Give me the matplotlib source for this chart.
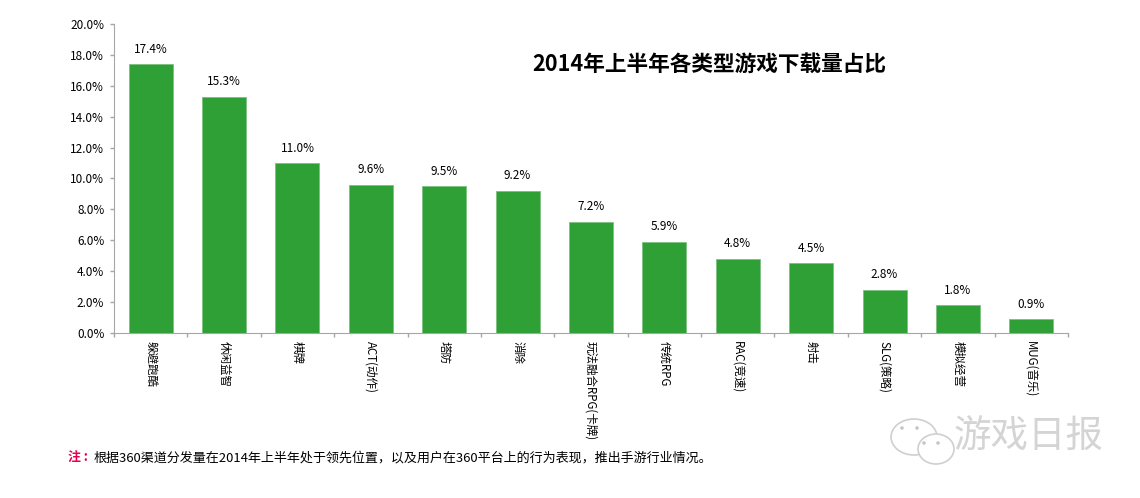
from matplotlib.backends.backend_agg import FigureCanvasAgg
from matplotlib.figure import Figure
from matplotlib.patches import Ellipse

FONT = ['Noto Sans CJK SC', 'DejaVu Sans']
W, H = 1140, 498


class ShareChart:
    """Окно для столбчатой диаграммы"""

    def __init__(self):
        self.genres = ['躲避跑酷', '休闲益智', '棋牌', 'ACT(动作)', '塔防', '消除', '玩法融合RPG(卡牌)',
                       '传统RPG', 'RAC(竞速)', '射击', 'SLG(策略)', '模拟经营', 'MUG(音乐)']
        self.share = [17.4, 15.3, 11.0, 9.6, 9.5, 9.2, 7.2, 5.9, 4.8, 4.5, 2.8, 1.8, 0.9]
        self.fig = Figure(figsize=(W / 100, H / 100), dpi=100)
        self.canvas = FigureCanvasAgg(self.fig)

    def plot_bars(self):
        """График долей загрузок"""
        ax = self.fig.add_axes([114 / W, 1 - 333 / H, 954 / W, 309 / H])
        x = range(len(self.genres))
        ax.bar(x, self.share, width=0.6, color='#2ea036', edgecolor='#7cc07f', linewidth=0.6)

        for i, v in zip(x, self.share):
            ax.text(i, v + 0.55, f'{v:.1f}%', ha='center', va='bottom', fontsize=8.5, family=FONT, color='black')

        ax.set_xlim(-0.5, len(self.genres) - 0.5)
        ax.set_ylim(0, 20)
        ax.set_yticks(range(0, 21, 2))
        ax.set_yticklabels([f'{t:.1f}%' for t in range(0, 21, 2)], fontsize=8.5, family=FONT)
        # Риски оси X стоят между столбцами
        ax.set_xticks([i - 0.5 for i in range(len(self.genres) + 1)])
        ax.set_xticklabels([])
        ax.tick_params(axis='both', color='#a6a6a6', length=3, width=1, direction='out')
        ax.tick_params(axis='y', pad=4)

        ax.spines['top'].set_visible(False)
        ax.spines['right'].set_visible(False)
        ax.spines['left'].set_color('#a6a6a6')
        ax.spines['bottom'].set_color('#a6a6a6')

        # Подписи категорий повёрнуты вниз
        for i, name in enumerate(self.genres):
            ax.annotate(name, xy=(i, 0), xycoords=('data', 'axes fraction'), xytext=(0, -6),
                        textcoords='offset points', rotation=270, ha='center', va='top',
                        fontsize=8.3, family=FONT, color='black')

    def add_texts(self):
        """Заголовок, примечание и водяной знак"""
        self.fig.text(709 / W, 1 - 64 / H, '2014年上半年各类型游戏下载量占比', ha='center', va='center',
                      fontsize=15.6, fontweight='bold', family=FONT)
        self.fig.text(68 / W, 1 - 458 / H, '注 :', ha='left', va='center', fontsize=9.3,
                      fontweight='bold', color='#e6004c', family=FONT)
        self.fig.text(94 / W, 1 - 458 / H, '根据360渠道分发量在2014年上半年处于领先位置，以及用户在360平台上的行为表现，推出手游行业情况。',
                      ha='left', va='center', fontsize=9.4, color='black', family=FONT)
        self.fig.text(1029 / W, 1 - 437 / H, '游戏日报', ha='center', va='center', fontsize=27,
                      color='#d4d4d4', family=FONT)

        # Значок-пузыри рядом с водяным знаком
        bubbles = [(914, 437, 46, 36), (936, 449, 36, 30)]
        for cx, cy, w, h in bubbles:
            self.fig.add_artist(Ellipse((cx / W, 1 - cy / H), w / W, h / H, transform=self.fig.transFigure,
                                        facecolor='white', edgecolor='#cfcfcf', linewidth=1.2))
        for cx, cy in [(902, 428), (917, 428), (924, 443), (938, 443)]:
            self.fig.add_artist(Ellipse((cx / W, 1 - cy / H), 3.5 / W, 3.5 / H, transform=self.fig.transFigure,
                                        facecolor='#c4c4c4', edgecolor='none'))

    def save_plot(self):
        """Сохранение графика в файл"""
        self.fig.savefig('out.png', dpi=100)


chart = ShareChart()
chart.plot_bars()
chart.add_texts()
chart.save_plot()
